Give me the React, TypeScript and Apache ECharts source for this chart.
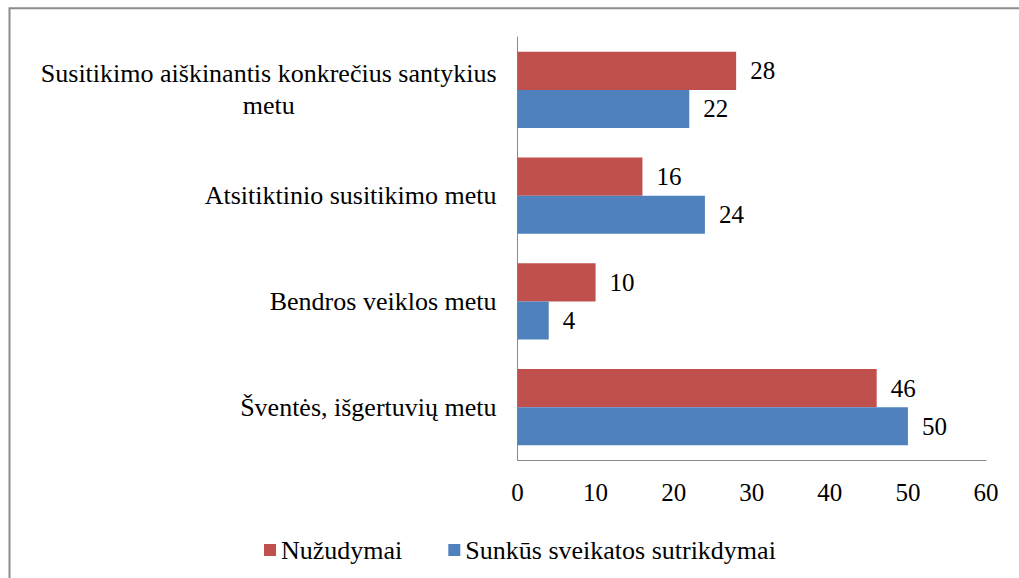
import React, { useEffect, useRef } from "react";
import * as echarts from "echarts";

const categories = [
  "Šventės, išgertuvių metu",
  "Bendros veiklos metu",
  "Atsitiktinio susitikimo metu",
  "Susitikimo aiškinantis konkrečius santykius\nmetu",
];
const seriesNames = ["Nužudymai", "Sunkūs sveikatos sutrikdymai"];
const nuzudymai = [46, 10, 16, 28];
const sunkus = [50, 4, 24, 22];
const xTicks = [0, 10, 20, 30, 40, 50, 60];

const FONT = "Liberation Serif";
const RED = "#C0504D";
const BLUE = "#4F81BD";

export default function App() {
  const ref = useRef<HTMLDivElement>(null);
  useEffect(() => {
    if (!ref.current) return;
    const chart = echarts.init(ref.current, undefined, { renderer: "svg" });
    const labelStyle = {
      show: true,
      position: "right" as const,
      distance: 14,
      color: "#000",
      fontFamily: FONT,
      fontSize: 25,
    };
    chart.setOption({
      animation: false,
      textStyle: { fontFamily: FONT },
      grid: { left: 517.5, right: 33, top: 37, bottom: 118, containLabel: false },
      legend: {
        data: seriesNames,
        left: 259,
        top: 532,
        icon: "rect",
        itemWidth: 12,
        itemHeight: 12,
        itemGap: 46,
        textStyle: { fontFamily: FONT, fontSize: 26, color: "#000" },
      },
      xAxis: {
        type: "value",
        min: xTicks[0],
        max: xTicks[xTicks.length - 1],
        interval: 10,
        splitLine: { show: false },
        axisTick: { show: false },
        axisLine: { show: true, lineStyle: { color: "#8a8a8a", width: 1 } },
        axisLabel: { color: "#000", fontFamily: FONT, fontSize: 25, margin: 20 },
      },
      yAxis: {
        type: "category",
        data: categories,
        axisTick: { show: false },
        axisLine: { show: true, lineStyle: { color: "#8a8a8a", width: 1 } },
        axisLabel: {
          color: "#000",
          fontFamily: FONT,
          fontSize: 26,
          margin: 21,
          lineHeight: 32,
          formatter: (v: string) =>
            v.includes("\n")
              ? v.split("\n").map((s) => `{c|${s}}`).join("\n")
              : v,
          rich: {
            c: { align: "center", fontFamily: FONT, fontSize: 26, lineHeight: 32, color: "#000" },
          },
        },
      },
      series: [
        {
          name: seriesNames[0],
          type: "bar",
          data: nuzudymai,
          barGap: "0%",
          barCategoryGap: "28%",
          itemStyle: { color: RED },
          label: labelStyle,
        },
        {
          name: seriesNames[1],
          type: "bar",
          data: sunkus,
          barGap: "0%",
          barCategoryGap: "28%",
          itemStyle: { color: BLUE },
          label: labelStyle,
        },
      ],
      graphic: [
        {
          type: "polyline",
          shape: { points: [[9.5, 600], [9.5, 8.3], [1030, 8.3]] },
          style: { stroke: "#8c8c8c", lineWidth: 2, fill: "none" },
          silent: true,
        },
      ],
    });
    return () => chart.dispose();
  }, []);
  return (
    <div
      ref={ref}
      style={{ position: "fixed", left: 0, top: 0, width: 1019, height: 578, background: "#fff" }}
    />
  );
}
